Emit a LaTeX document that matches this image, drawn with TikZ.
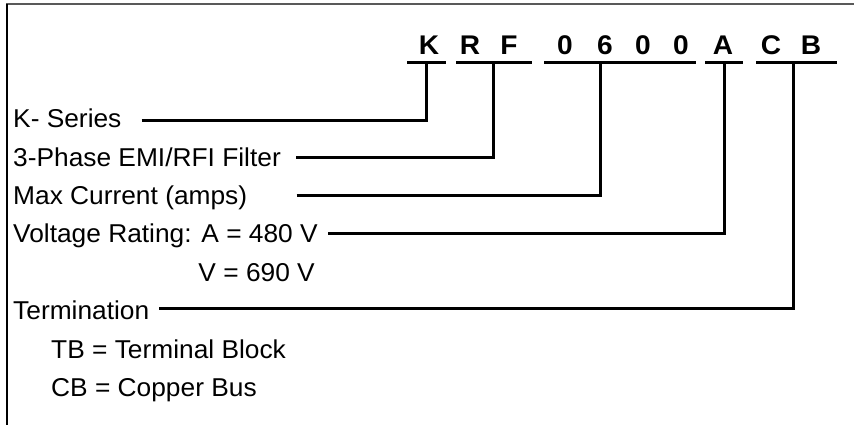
\documentclass[tikz,border=0pt]{standalone}
\usepackage{fontspec}
\setmainfont{Liberation Sans}[FakeStretch=1.0]
\newfontfamily\lblfont{Liberation Sans}[FakeStretch=1.02]
\newfontfamily\codefont{Liberation Sans}[FakeStretch=1.04]
\begin{document}
\begin{tikzpicture}[x=1pt,y=-1pt,
  lbl/.style={inner sep=0pt,anchor=base west,font=\lblfont\fontsize{25.8}{30}\selectfont},
  code/.style={inner sep=0pt,anchor=base,font=\codefont\fontsize{27}{30}\selectfont\bfseries},
  uline/.style={line width=3pt},
  conn/.style={line width=3pt,line join=miter}]
\useasboundingbox (0,0) rectangle (854,425);
% frame
\draw[black!65,line width=1.6pt] (6,4) -- (854,4);
\draw[black,line width=1.4pt] (7,4) -- (7,425);
% code letters
\node[code] (cK)  at (429,55) {K};
\node[code] (cR)  at (470,55) {R};
\node[code] (cF)  at (509,55) {F};
\node[code] (c0a) at (565,55) {0};
\node[code] (c6)  at (605,55) {6};
\node[code] (c0b) at (643,55) {0};
\node[code] (c0c) at (681,55) {0};
\node[code] (cA)  at (723,55) {A};
\node[code] (cC)  at (771,55) {C};
\node[code] (cB)  at (811,55) {B};
% underlines
\coordinate (uK1) at (407,62.7);  \coordinate (uK2) at (446,62.7);
\coordinate (uR1) at (456,62.7);  \coordinate (uR2) at (532,62.7);
\coordinate (uN1) at (544,62.7);  \coordinate (uN2) at (696,62.7);
\coordinate (uA1) at (705,62.7);  \coordinate (uA2) at (743,62.7);
\coordinate (uC1) at (756,62.7);  \coordinate (uC2) at (837,62.7);
\draw[uline] (uK1) -- (uK2);
\draw[uline] (uR1) -- (uR2);
\draw[uline] (uN1) -- (uN2);
\draw[uline] (uA1) -- (uA2);
\draw[uline] (uC1) -- (uC2);
% tap points on underlines
\coordinate (tK) at (426.7,62.7);
\coordinate (tR) at (493.3,62.7);
\coordinate (tN) at (600,62.7);
\coordinate (tA) at (724,62.7);
\coordinate (tC) at (793.3,62.7);
% labels
\node[lbl] (l1) at (13,128) {K- Series};
\node[lbl] (l2) at (13,166.5) {3-Phase EMI/RFI Filter};
\node[lbl] (l3) at (13,204) {Max Current (amps)};
\node[lbl] (l4) at (13,242) {Voltage Rating: A = 480 V};
\node[lbl,anchor=base east] (l5) at (315,281.5) {V = 690 V};
\node[lbl] (l6) at (13,319.5) {Termination};
\node[lbl] (l7) at (51,358.5) {TB = Terminal Block};
\node[lbl] (l8) at (51,396.5) {CB = Copper Bus};
% connector start points
\coordinate (s1) at (141.7,120.5);
\coordinate (s2) at (296,157.5);
\coordinate (s3) at (296.7,195);
\coordinate (s4) at (328,233);
\coordinate (s6) at (159,308);
% connectors
\draw[conn] (s1) -| (tK);
\draw[conn] (s2) -| (tR);
\draw[conn] (s3) -| (tN);
\draw[conn] (s4) -| (tA);
\draw[conn] (s6) -| (tC);
\end{tikzpicture}
\end{document}
